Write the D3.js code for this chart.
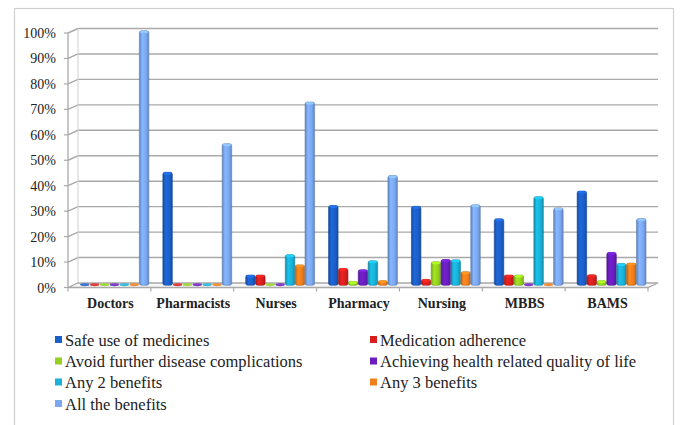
<!DOCTYPE html>
<html>
<head>
<meta charset="utf-8">
<script src="https://cdn.jsdelivr.net/npm/d3@7"></script>
</head>
<body style="margin:0">
<svg id="chart" width="680" height="425"></svg>
<script>
// Perceived benefits by respondent group (percent of respondents)
const categories = ["Doctors", "Pharmacists", "Nurses", "Pharmacy", "Nursing", "MBBS", "BAMS"];
const seriesNames = [
  "Safe use of medicines",
  "Medication adherence",
  "Avoid further disease complications",
  "Achieving health related quality of life",
  "Any 2 benefits",
  "Any 3 benefits",
  "All the benefits"
];
const safeUse            = [0, 44.4, 4, 31.3, 31.0, 26.1, 37.0];
const adherence          = [0, 0, 4, 6.6, 2.3, 4.0, 4.1];
const avoidComplications = [0, 0, 0, 1.5, 9.2, 4.0, 1.8];
const qualityOfLife      = [0, 0, 0, 6.1, 10.1, 0.4, 12.9];
const anyTwo             = [0, 0, 12, 9.6, 10.0, 34.8, 8.5];
const anyThree           = [0, 0, 8, 1.8, 5.3, 0.3, 8.7];
const allBenefits        = [100, 55.6, 72, 43.1, 31.6, 30.4, 26.2];
const seriesColors = ["#1b5fc9", "#d91f1d", "#95d21f", "#6a1dbf", "#19b1d8", "#f07e1b", "#7ba8f1"];
const yTicks = [0, 10, 20, 30, 40, 50, 60, 70, 80, 90, 100];
const yTickLabels = ["0%", "10%", "20%", "30%", "40%", "50%", "60%", "70%", "80%", "90%", "100%"];

const seriesValues = [safeUse, adherence, avoidComplications, qualityOfLife, anyTwo, anyThree, allBenefits];

const svg = d3.select("#chart");
const FONT = '"Liberation Serif"';

// Outer chart frame
svg.append("rect")
  .attr("x", 14.5).attr("y", 8.5).attr("width", 659).attr("height", 430)
  .attr("fill", "#fff").attr("stroke", "#cfcfcf").attr("stroke-width", 1.2);

// Plot geometry: front plane plus a shallow depth offset for the 3D look
const left = 68, right = 648;
const depthX = 10, depthY = -4.5;
const y = d3.scaleLinear().domain([0, 100]).range([287.5, 33]);
const x0 = d3.scaleBand().domain(categories).range([left, right]);
const x1 = d3.scaleBand().domain(seriesNames).range([7, x0.bandwidth() - 7]).paddingInner(0.04);

// Back wall gridlines with slanted joins to the front axis
yTicks.forEach(v => {
  if (v === 0) return;
  svg.append("path")
    .attr("d", `M${left},${y(v)} L${left + depthX},${y(v) + depthY} L${right + depthX},${y(v) + depthY}`)
    .attr("fill", "none").attr("stroke", "#a9a9a9").attr("stroke-width", 1.4);
});
// Left wall edges
svg.append("line")
  .attr("x1", left).attr("x2", left).attr("y1", y(100)).attr("y2", y(0))
  .attr("stroke", "#a9a9a9").attr("stroke-width", 1.3);
svg.append("line")
  .attr("x1", left + depthX).attr("x2", left + depthX).attr("y1", y(100) + depthY).attr("y2", y(0) + depthY)
  .attr("stroke", "#d0d0d0").attr("stroke-width", 1);
// Floor
svg.append("path")
  .attr("d", `M${left},${y(0)} L${right},${y(0)} L${right + depthX},${y(0) + depthY} L${left + depthX},${y(0) + depthY} Z`)
  .attr("fill", "#f7f7f7").attr("stroke", "#a9a9a9").attr("stroke-width", 1.3);
// Y tick marks
yTicks.forEach(v => {
  svg.append("line")
    .attr("x1", left - 4).attr("x2", left).attr("y1", y(v)).attr("y2", y(v))
    .attr("stroke", "#a9a9a9").attr("stroke-width", 1.2);
});
// Category boundary ticks under the floor
d3.range(categories.length + 1).forEach(i => {
  const xx = left + i * x0.step();
  svg.append("line")
    .attr("x1", xx).attr("x2", xx).attr("y1", y(0)).attr("y2", y(0) + 4)
    .attr("stroke", "#a9a9a9").attr("stroke-width", 1.2);
});

// Y axis labels
yTicks.forEach((v, i) => {
  svg.append("text")
    .attr("x", 56).attr("y", y(v) + 5)
    .attr("text-anchor", "end")
    .style("font-family", FONT).style("font-size", "14px")
    .style("fill", "#222")
    .text(yTickLabels[i]);
});

// Category labels
categories.forEach(c => {
  svg.append("text")
    .attr("x", x0(c) + x0.bandwidth() / 2 + 1)
    .attr("y", 308)
    .attr("text-anchor", "middle")
    .style("font-family", FONT).style("font-size", "14px").style("font-weight", "bold")
    .style("fill", "#222")
    .text(c);
});

// Gradients giving each bar a rounded, shaded face
const defs = svg.append("defs");
seriesColors.forEach((col, i) => {
  const c = d3.color(col);
  const g = defs.append("linearGradient").attr("id", "bar" + i)
    .attr("x1", "0%").attr("x2", "100%").attr("y1", "0%").attr("y2", "0%");
  g.append("stop").attr("offset", "0%").attr("stop-color", c.darker(0.7));
  g.append("stop").attr("offset", "30%").attr("stop-color", c.brighter(0.25));
  g.append("stop").attr("offset", "70%").attr("stop-color", col);
  g.append("stop").attr("offset", "100%").attr("stop-color", c.darker(0.6));
});

// Bars sit at mid-depth of the plot
const midX = depthX / 2, midY = depthY / 2;
const bw = x1.bandwidth();
categories.forEach((cat, ci) => {
  seriesNames.forEach((s, si) => {
    const value = seriesValues[si][ci];
    const bx = x0(cat) + x1(s) + midX;
    const base = y(0) + midY;
    const top = y(value) + midY;
    const col = seriesColors[si];
    if (value > 0.6) {
      svg.append("rect")
        .attr("x", bx).attr("y", top)
        .attr("width", bw).attr("height", base - top)
        .attr("rx", 2).attr("ry", 2)
        .attr("fill", `url(#bar${si})`)
        .attr("stroke", d3.color(col).darker(0.8)).attr("stroke-width", 0.6);
      svg.append("ellipse")
        .attr("cx", bx + bw / 2).attr("cy", top + 1.2)
        .attr("rx", bw / 2 - 0.6).attr("ry", 1.3)
        .attr("fill", d3.color(col).brighter(0.5));
    } else {
      // zero and near-zero values show only a flat disc on the floor
      svg.append("ellipse")
        .attr("cx", bx + bw / 2).attr("cy", base - 0.5)
        .attr("rx", bw / 2).attr("ry", 1.4)
        .attr("fill", col).attr("opacity", 0.85);
    }
  });
});

// Legend, two columns
const legendCols = [55, 370];
const legendRows = [340, 361.5, 382.5, 404];
seriesNames.forEach((s, i) => {
  const lx = legendCols[i % 2];
  const ly = legendRows[Math.floor(i / 2)];
  svg.append("rect")
    .attr("x", lx).attr("y", ly - 4)
    .attr("width", 7).attr("height", 7)
    .attr("fill", seriesColors[i]);
  svg.append("text")
    .attr("x", lx + 10).attr("y", ly + 5.5)
    .style("font-family", FONT).style("font-size", "16.5px")
    .style("fill", "#222")
    .text(s);
});
</script>
</body>
</html>
